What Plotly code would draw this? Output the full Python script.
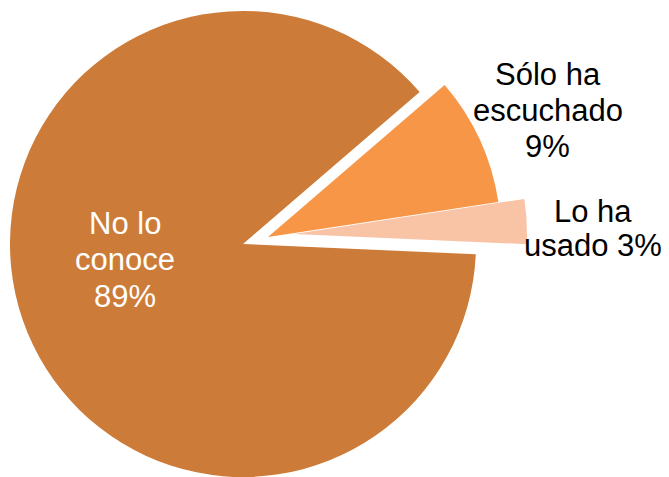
import plotly.graph_objects as go

# ---- data ----
labels = ["Sólo ha escuchado", "Lo ha usado", "No lo conoce"]
values = [8.9, 3.1, 88.0]
pct_text = ["9%", "3%", "89%"]

# ---- styles / layout ----
display_lines = [["Sólo ha", "escuchado"], ["Lo ha", "usado"], ["No lo", "conoce"]]
pct_join = ["newline", "inline", "newline"]
colors = ["#F79646", "#F9C3A5", "#CD7B38"]
label_colors = ["#000000", "#000000", "#FFFFFF"]
W, H = 669, 477
R = 233
CX, CY = 243, 244
explode_px = [(25, -7), (51, -10), (0, 0)]  # explosion offsets of slices
start_angle = 49.3  # degrees clockwise from 12 o'clock
label_pos = [(547.5, 74, 36.5), (593, 211, 34.5), (125, 223, 36.5)]  # x, first-line centre y, line step
FONT = "Liberation Sans, Arial, sans-serif"
FS = 31

fig = go.Figure()
order = [2, 0, 1]
for i in order:
    dx, dy = explode_px[i]
    cx, cy = CX + dx, CY + dy
    dom_x = [max(0.0, (cx - R) / W), min(1.0, (cx + R) / W)]
    dom_y = [max(0.0, 1 - (cy + R) / H), min(1.0, 1 - (cy - R) / H)]
    cols = [colors[j] if j == i else "rgba(0,0,0,0)" for j in range(len(labels))]
    fig.add_trace(go.Pie(
        labels=labels, values=values, sort=False, direction="clockwise",
        rotation=start_angle, domain=dict(x=dom_x, y=dom_y),
        marker=dict(colors=cols, line=dict(width=0)),
        textinfo="none", hoverinfo="label+percent", showlegend=False,
        name=labels[i],
    ))

for i, lab in enumerate(labels):
    lines = list(display_lines[i])
    if pct_join[i] == "newline":
        lines.append(pct_text[i])
    else:
        lines[-1] = lines[-1] + " " + pct_text[i]
    x, y0, step = label_pos[i]
    for k, ln in enumerate(lines):
        fig.add_annotation(
            x=x / W, y=1 - (y0 + k * step) / H, xref="paper", yref="paper",
            text=ln, showarrow=False, xanchor="center", yanchor="middle",
            font=dict(family=FONT, size=FS, color=label_colors[i]),
        )

fig.update_layout(
    width=W, height=H, margin=dict(l=0, r=0, t=0, b=0),
    paper_bgcolor="white", plot_bgcolor="white", showlegend=False,
)
fig.write_html(
    "out.html",
    config={"displayModeBar": False},
    post_script="document.body.style.margin='0';document.body.style.overflow='hidden';",
)
